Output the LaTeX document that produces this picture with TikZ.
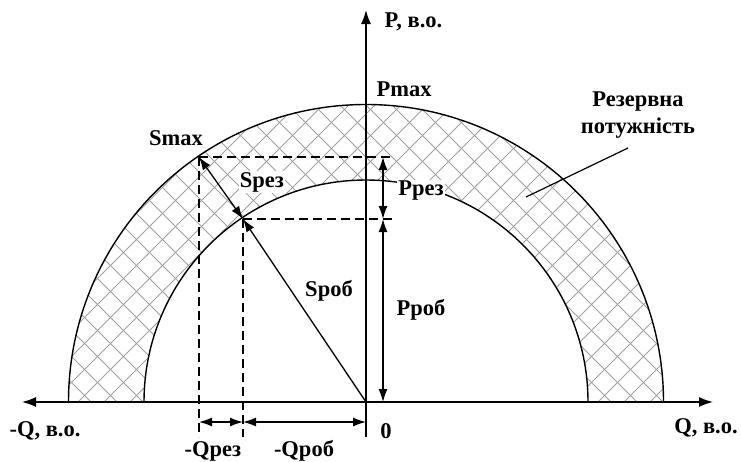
\documentclass[tikz,border=0pt]{standalone}
\usepackage{fontspec}
\setmainfont{Liberation Serif}
\usetikzlibrary{arrows.meta}

\begin{document}
\begin{tikzpicture}[x=1pt, y=-1pt, line width=1.4pt, line join=round,
  lbl/.style={font=\fontsize{22.5}{27}\selectfont\bfseries, inner sep=1pt},
  lblw/.style={lbl, fill=white},
  axis/.style={line width=1.4pt},
  dimarr/.style={line width=1.3pt, {Latex[length=13pt,width=9pt]}-{Latex[length=13pt,width=9pt]}},
  dashln/.style={line width=1.2pt, dash pattern=on 9pt off 5pt},
  hatch/.style={gray!75, line width=0.9pt}]

  %% ════ key points ════
  \coordinate (O) at (366,402);
  \coordinate (Smax) at (199,157);
  \coordinate (Sres) at (243,219);
  \coordinate (Qneg) at (22,402);
  \coordinate (Qpos) at (713,402);
  \coordinate (Ptop) at (366,10);
  \coordinate (Pbot) at (366,437);

  %% ════ hatched reserve ring ════
  \begin{scope}[even odd rule]
    \clip (60,402) rectangle (672,100);
    \clip (O) circle (297.5) (O) circle (222);
    \foreach \c in {-260,-234,...,1000} {
      \draw[hatch] (\c,402) -- (\c+310,92);
      \draw[hatch] (\c+13,402) -- (\c-297,92);
    }
  \end{scope}

  %% ════ arcs ════
  \draw (68.5,402) arc[start angle=180, end angle=360, radius=297.5];
  \draw (144,402) arc[start angle=180, end angle=360, radius=222];

  %% ════ axes ════
  \draw[axis, {Latex[length=14pt,width=10pt]}-{Latex[length=14pt,width=10pt]}] (Qneg) -- (Qpos);
  \draw[axis, -{Latex[length=14pt,width=10pt]}] (Pbot) -- (Ptop);

  %% ════ dashed projections ════
  \draw[dashln] (Smax) -- (391,157);
  \draw[dashln] (Sres) -- (394,219);
  \draw[dashln] (Smax) -- (199,437);
  \draw[dashln] (Sres) -- (243,437);

  %% ════ dimension arrows ════
  \draw[dimarr] (199,422) -- (243,422);
  \draw[dimarr] (243,422) -- (366,422);
  \draw[dimarr] (383,157) -- (383,219);
  \draw[dimarr] (383,219) -- (383,402);
  \draw[dimarr] (Smax) -- (Sres);
  \draw[line width=1.3pt, -{Latex[length=13pt,width=9pt]}] (O) -- (Sres);

  %% ════ labels ════
  \node[lbl, anchor=west] (pax) at (383,22) {P, в.о.};
  \node[lbl] (pmax) at (404,89) {Pmax};
  \node[lbl] (smax) at (176,138) {Smax};
  \node[lblw] (sres) at (262,182) {Sрез};
  \node[lblw] (pres) at (421,191) {Pрез};
  \node[lbl] (prob) at (421,310) {Pроб};
  \node[lbl] (srob) at (329,291) {Sроб};
  \node[lbl] (qneg) at (45,431) {-Q, в.о.};
  \node[lbl] (zero) at (386,431) {0};
  \node[lbl] (qres) at (213,451) {-Qрез};
  \node[lbl] (qrob) at (304,451) {-Qроб};
  \node[lbl] (qpos) at (706,428) {Q, в.о.};
  \node[lbl, align=center] (reserve) at (638,115) {Резервна\\[0pt]потужність};

  %% ════ leader ════
  \coordinate (lead) at (526,197);
  \draw[line width=1.2pt] (628,148) -- (lead);

  \pgfresetboundingbox
  \path[use as bounding box] (0,0) rectangle (741,461);
\end{tikzpicture}
\end{document}
